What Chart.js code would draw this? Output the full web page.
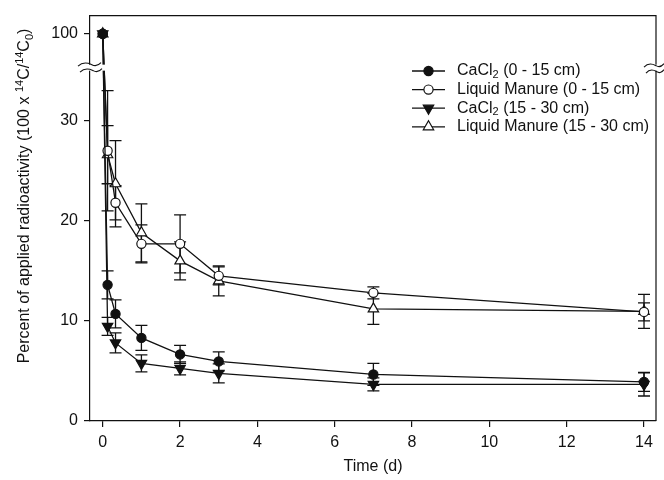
<!DOCTYPE html>
<html lang="en">
<head>
<meta charset="UTF-8">
<title>Applied radioactivity over time</title>
<script src="https://cdn.jsdelivr.net/npm/chart.js"></script>
<style>
  body { margin: 0; background: #fff; }
  #wrap { width: 664px; height: 480px; }
</style>
</head>
<body>
<div id="wrap"><canvas id="chart" width="664" height="480"></canvas></div>
<script>
// ---- data ----
const time = [0, 0.125, 0.33, 1, 2, 3, 7, 14];

const cacl2Top      = [100, 13.6, 10.7, 8.3, 6.65, 5.95, 4.65, 3.9];
const cacl2TopErr   = [0, 1.4, 1.4, 1.25, 0.9, 0.95, 1.1, 0.95];
const manureTop     = [100, 27.0, 21.8, 17.7, 17.7, 14.5, 12.8, 10.9];
const manureTopErr  = [0, 6.0, 1.7, 1.9, 2.9, 0.9, 0.6, 0.9];
const cacl2Sub      = [100, 9.45, 7.8, 5.75, 5.25, 4.75, 3.65, 3.65];
const cacl2SubErr   = [0, 0.9, 1.0, 0.85, 0.65, 0.95, 0.65, 1.15];
const manureSub     = [100, 26.6, 23.7, 18.8, 16.0, 14.0, 11.2, 10.95];
const manureSubErr  = [0, 2.9, 4.3, 2.9, 1.9, 1.5, 1.55, 1.7];

const seriesLabels = [
  "CaCl₂ (0 - 15 cm)",
  "Liquid Manure (0 - 15 cm)",
  "CaCl₂ (15 - 30 cm)",
  "Liquid Manure (15 - 30 cm)"
];

const xTicks = [0, 2, 4, 6, 8, 10, 12, 14];
const yTicks = [0, 10, 20, 30, 100];

const xTitle = "Time (d)";
const yTitle = "Percent of applied radioactivity (100 x ¹⁴C/¹⁴C₀)";

// ---- look ----
const ink = "#111";
const family = "Arial, 'Liberation Sans', sans-serif";
const fontSize = 16;

// broken y axis: values above the break are squeezed into a short upper band
const breakAt = 35.3;
const upperCentre = 38.68;   // where 100 sits on the lower scale
function brokenY(v) {
  return v <= breakAt ? v : upperCentre + (v - 100) * 0.2;
}

function toPoints(vals) {
  return vals.map((v, i) => ({ x: time[i], y: brokenY(v) }));
}

const errors = [cacl2TopErr, manureTopErr, cacl2SubErr, manureSubErr];
const values = [cacl2Top, manureTop, cacl2Sub, manureSub];

function series(i, vals, style, rotation, filled, radius) {
  return {
    label: seriesLabels[i],
    data: toPoints(vals),
    borderColor: ink,
    backgroundColor: filled ? ink : "#fff",
    borderWidth: 1.3,
    pointStyle: style,
    rotation: rotation,
    pointRadius: radius,
    pointBackgroundColor: filled ? ink : "#fff",
    pointBorderColor: ink,
    pointBorderWidth: 1.2,
    tension: 0,
    fill: false
  };
}

// text with unicode sub/superscript digits drawn as small raised/lowered digits
const SUP = "⁰¹²³⁴⁵⁶⁷⁸⁹";
const SUB = "₀₁₂₃₄₅₆₇₈₉";
function runs(text) {
  const out = [];
  for (const ch of text) {
    let kind = "n", c = ch;
    if (SUP.includes(ch)) { kind = "sup"; c = String(SUP.indexOf(ch)); }
    else if (SUB.includes(ch)) { kind = "sub"; c = String(SUB.indexOf(ch)); }
    const last = out[out.length - 1];
    if (last && last.kind === kind) last.text += c;
    else out.push({ kind, text: c });
  }
  return out;
}
function richWidth(ctx, text) {
  let w = 0;
  for (const r of runs(text)) {
    ctx.font = (r.kind === "n" ? fontSize : Math.round(fontSize * 0.68)) + "px " + family;
    w += ctx.measureText(r.text).width;
  }
  return w;
}
function drawRich(ctx, text, x, y) {
  let cx = x;
  for (const r of runs(text)) {
    let dy = 0;
    if (r.kind === "n") ctx.font = fontSize + "px " + family;
    else {
      ctx.font = Math.round(fontSize * 0.68) + "px " + family;
      dy = r.kind === "sup" ? -fontSize * 0.4 : fontSize * 0.25;
    }
    ctx.fillText(r.text, cx, y + dy);
    cx += ctx.measureText(r.text).width;
  }
}

function drawMarker(ctx, ds, x, y) {
  ctx.save();
  ctx.fillStyle = ds.pointBackgroundColor;
  ctx.strokeStyle = ds.pointBorderColor;
  ctx.lineWidth = ds.pointBorderWidth;
  ctx.beginPath();
  const r = ds.pointRadius;
  if (ds.pointStyle === "circle") {
    ctx.arc(x, y, r, 0, Math.PI * 2);
  } else {
    const rot = (ds.rotation || 0) * Math.PI / 180;
    for (let k = 0; k < 3; k++) {
      const a = rot + k * 2 * Math.PI / 3;
      const px = x + Math.sin(a) * r, py = y - Math.cos(a) * r;
      if (k === 0) ctx.moveTo(px, py); else ctx.lineTo(px, py);
    }
    ctx.closePath();
  }
  ctx.fill();
  ctx.stroke();
  ctx.restore();
}

function wave(ctx, x0, x1, y) {
  ctx.beginPath();
  const w = x1 - x0;
  ctx.moveTo(x0, y + 1.5);
  ctx.bezierCurveTo(x0 + w * 0.25, y - 4, x0 + w * 0.5, y - 1, x0 + w * 0.6, y);
  ctx.bezierCurveTo(x0 + w * 0.75, y + 2, x0 + w * 0.9, y + 0.5, x1, y - 2);
  ctx.stroke();
}

const errorBars = {
  id: "errorBars",
  beforeDatasetsDraw(chart) {
    const { ctx, scales: { x, y }, chartArea } = chart;
    ctx.save();
    ctx.beginPath();
    ctx.rect(chartArea.left, chartArea.top, chartArea.right - chartArea.left, chartArea.bottom - chartArea.top);
    ctx.clip();
    ctx.strokeStyle = ink;
    ctx.lineWidth = 1.3;
    values.forEach((vals, i) => {
      vals.forEach((v, j) => {
        const e = errors[i][j];
        if (!e) return;
        const px = x.getPixelForValue(time[j]);
        const top = y.getPixelForValue(brokenY(v + e));
        const bot = y.getPixelForValue(brokenY(v - e));
        ctx.beginPath();
        ctx.moveTo(px, top); ctx.lineTo(px, bot);
        ctx.moveTo(px - 6, top); ctx.lineTo(px + 6, top);
        ctx.moveTo(px - 6, bot); ctx.lineTo(px + 6, bot);
        ctx.stroke();
      });
    });
    ctx.restore();
  }
};

const frame = {
  id: "frame",
  afterDraw(chart) {
    const { ctx, scales: { y }, chartArea: a } = chart;
    ctx.save();
    ctx.strokeStyle = ink;
    ctx.lineWidth = 1.2;
    ctx.beginPath();
    ctx.moveTo(a.left, a.top); ctx.lineTo(a.right, a.top); ctx.lineTo(a.right, a.bottom);
    ctx.stroke();

    // axis breaks
    const by = y.getPixelForValue(breakAt);
    ctx.fillStyle = "#fff";
    ctx.fillRect(a.left - 12, by - 3, 34, 6);
    ctx.fillRect(a.right - 12, by - 3, 22, 6);
    ctx.lineWidth = 1.1;
    wave(ctx, a.left - 12, a.left + 11, by - 3);
    wave(ctx, a.left - 10, a.left + 12, by + 3);
    wave(ctx, a.right - 12, a.right + 8, by - 2);
    wave(ctx, a.right - 10, a.right + 8, by + 4);

    // legend
    ctx.fillStyle = ink;
    ctx.textBaseline = "middle";
    ctx.textAlign = "left";
    chart.data.datasets.forEach((ds, i) => {
      const ly = 71 + i * 18.6;
      ctx.strokeStyle = ink;
      ctx.lineWidth = 1.3;
      ctx.beginPath();
      ctx.moveTo(412, ly); ctx.lineTo(445, ly);
      ctx.stroke();
      drawMarker(ctx, ds, 428.5, ly);
      ctx.fillStyle = ink;
      drawRich(ctx, ds.label, 457, ly);
    });

    // axis titles
    ctx.textBaseline = "alphabetic";
    ctx.font = fontSize + "px " + family;
    const tw = richWidth(ctx, xTitle);
    drawRich(ctx, xTitle, (a.left + a.right) / 2 - tw / 2, 471);

    ctx.translate(29, 196);
    ctx.rotate(-Math.PI / 2);
    const yw = richWidth(ctx, yTitle);
    drawRich(ctx, yTitle, -yw / 2, 0);
    ctx.restore();
  }
};

new Chart(document.getElementById("chart"), {
  type: "line",
  data: {
    datasets: [
      series(0, cacl2Top, "circle", 0, true, 4.6),
      series(1, manureTop, "circle", 0, false, 4.6),
      series(2, cacl2Sub, "triangle", 180, true, 6),
      series(3, manureSub, "triangle", 0, false, 6)
    ]
  },
  options: {
    responsive: false,
    animation: false,
    layout: { padding: { top: 14, right: 8, left: 0, bottom: 0 } },
    plugins: { legend: { display: false }, tooltip: { enabled: false } },
    scales: {
      x: {
        type: "linear",
        min: -0.33,
        max: 14.31,
        afterBuildTicks: s => { s.ticks = xTicks.map(v => ({ value: v })); },
        afterFit: s => { s.height = 59; },
        grid: { drawOnChartArea: false, tickLength: 6, color: ink, lineWidth: 1.2 },
        border: { display: true, color: ink, width: 1.2 },
        ticks: { color: ink, padding: 6, font: { family: family, size: fontSize }, maxRotation: 0 }
      },
      y: {
        type: "linear",
        min: 0,
        max: 40.5,
        afterBuildTicks: s => { s.ticks = yTicks.map(v => ({ value: brokenY(v) })); },
        afterFit: s => { s.width = 90; },
        grid: { drawOnChartArea: false, tickLength: 6, color: ink, lineWidth: 1.2 },
        border: { display: true, color: ink, width: 1.2 },
        ticks: {
          color: ink, padding: 6,
          font: { family: family, size: fontSize },
          callback: (val, i) => yTicks[i]
        }
      }
    }
  },
  plugins: [errorBars, frame]
});
</script>
</body>
</html>
